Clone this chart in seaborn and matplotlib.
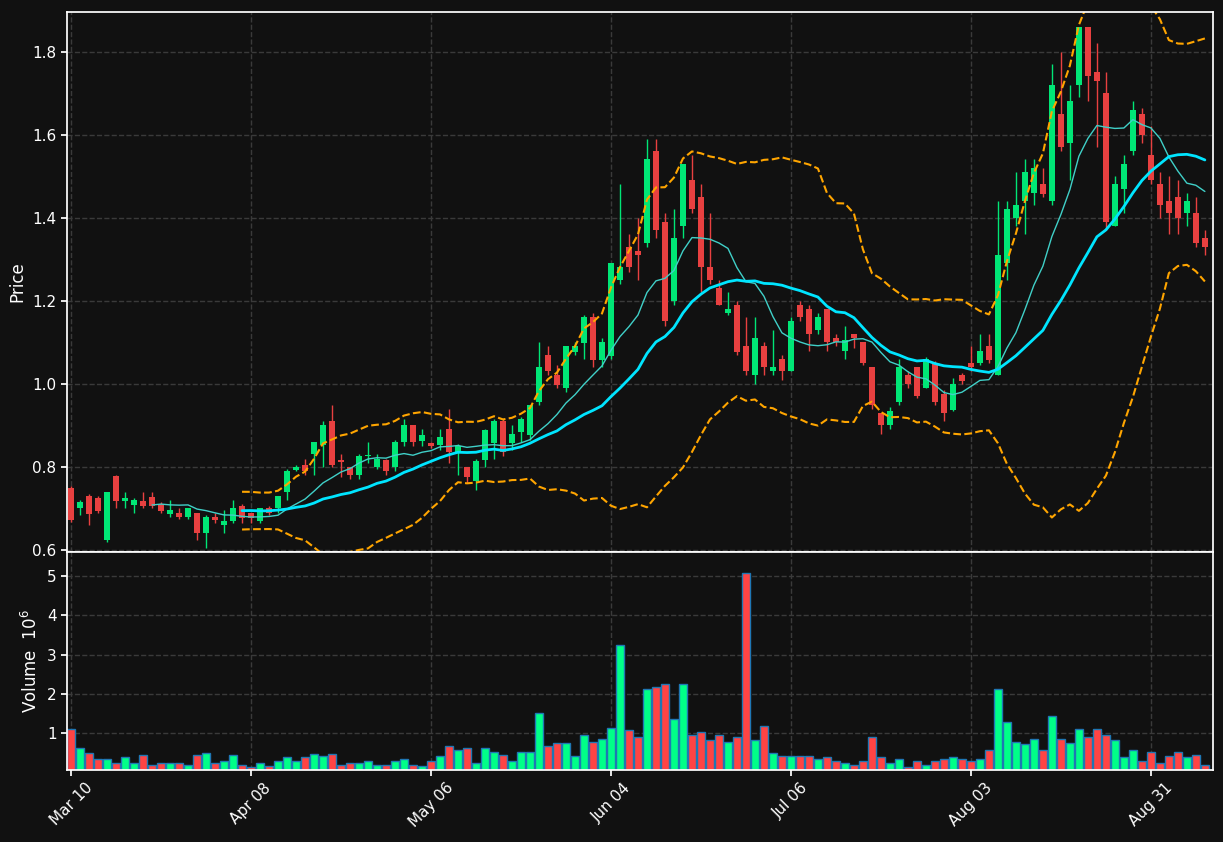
import numpy as np
import pandas as pd
import matplotlib
matplotlib.use("Agg")
import matplotlib.pyplot as plt
import seaborn as sns

# OHLC values (one per trading bar)
opens = [.75,.70,.73,.725,.625,.778,.718,.708,.718,.728,.71,.687,.69,.68,.69,.64,.68,.66,.67,.706,
         .69,.67,.70,.70,.74,.793,.805,.83,.853,.91,.815,.80,.78,.825,.80,.817,.80,.86,.90,.863,
         .858,.853,.89,.836,.80,.766,.816,.858,.91,.858,.885,.877,.955,1.07,1.02,.99,1.077,1.098,1.16,1.058,
         1.067,1.25,1.33,1.32,1.34,1.56,1.39,1.20,1.38,1.49,1.45,1.28,1.23,1.17,1.19,1.09,1.02,1.09,1.03,1.06,
         1.03,1.19,1.18,1.13,1.18,1.11,1.08,1.12,1.10,1.04,.93,.90,.957,1.02,1.04,.99,1.05,.975,.937,1.02,
         1.05,1.05,1.09,1.02,1.29,1.40,1.44,1.46,1.48,1.44,1.65,1.58,1.72,1.86,1.75,1.70,1.38,1.47,1.56,1.65,
         1.55,1.48,1.44,1.45,1.41,1.41,1.35]
closes = [.672,.716,.687,.694,.74,.718,.725,.72,.705,.705,.694,.697,.68,.70,.64,.68,.672,.67,.70,.677,
          .677,.70,.69,.73,.79,.80,.79,.86,.90,.805,.812,.78,.825,.828,.82,.79,.86,.90,.86,.877,
          .85,.872,.835,.85,.776,.815,.889,.91,.835,.88,.915,.95,1.04,1.03,.998,1.09,1.09,1.16,1.058,1.10,
          1.29,1.28,1.28,1.31,1.54,1.37,1.15,1.35,1.53,1.42,1.28,1.25,1.19,1.18,1.077,1.03,1.11,1.04,1.04,1.03,
          1.15,1.16,1.12,1.16,1.10,1.10,1.105,1.11,1.05,.95,.90,.935,1.04,1.00,.97,1.06,.955,.93,1.0,1.007,
          1.04,1.08,1.058,1.31,1.42,1.43,1.51,1.52,1.458,1.72,1.57,1.68,1.86,1.74,1.73,1.39,1.48,1.53,1.66,1.60,
          1.49,1.43,1.41,1.40,1.44,1.34,1.33]
highs = [.755,.72,.735,.73,.74,.78,.74,.725,.74,.74,.715,.72,.70,.70,.69,.685,.69,.695,.72,.71,
         .69,.70,.705,.73,.795,.805,.82,.86,.91,.95,.83,.80,.83,.86,.83,.82,.865,.915,.90,.89,
         .86,.89,.94,.855,.80,.82,.89,.915,.915,.90,.92,.95,1.10,1.09,1.045,1.09,1.10,1.165,1.17,1.11,
         1.29,1.48,1.36,1.40,1.59,1.59,1.41,1.42,1.53,1.55,1.48,1.41,1.25,1.22,1.20,1.16,1.16,1.10,1.13,1.07,
         1.16,1.20,1.19,1.17,1.18,1.12,1.14,1.12,1.10,1.04,.93,.945,1.06,1.03,1.04,1.065,1.055,.985,1.015,1.025,
         1.09,1.12,1.12,1.44,1.44,1.51,1.54,1.54,1.52,1.77,1.80,1.72,1.86,1.86,1.82,1.75,1.50,1.55,1.68,1.665,
         1.62,1.51,1.50,1.49,1.46,1.45,1.37]
lows = [.668,.685,.66,.69,.62,.70,.70,.69,.70,.70,.69,.68,.675,.675,.625,.605,.665,.64,.665,.665,
        .665,.665,.685,.69,.72,.79,.78,.78,.80,.80,.775,.77,.77,.81,.795,.78,.79,.85,.85,.85,
        .845,.84,.81,.78,.76,.745,.80,.82,.825,.84,.86,.865,.95,1.02,.99,.98,1.07,1.06,1.04,1.04,
        1.06,1.24,1.27,1.25,1.33,1.35,1.14,1.19,1.35,1.41,1.22,1.24,1.19,1.165,1.07,1.02,1.00,1.02,1.02,1.01,
        1.03,1.15,1.08,1.12,1.08,1.09,1.06,1.085,1.045,.94,.88,.89,.95,.99,.965,.99,.95,.91,.935,1.0,
        1.03,1.045,1.05,1.02,1.25,1.38,1.36,1.43,1.45,1.43,1.56,1.49,1.69,1.68,1.57,1.37,1.38,1.41,1.55,1.58,
        1.48,1.40,1.36,1.36,1.38,1.33,1.31]
volumes = [1.12,.64,.49,.34,.36,.26,.39,.24,.44,.21,.26,.24,.24,.21,.44,.49,.26,.29,.44,.21,
           .14,.24,.16,.29,.39,.31,.39,.47,.42,.47,.21,.24,.26,.29,.19,.19,.29,.36,.21,.16,
           .29,.42,.69,.57,.62,.26,.64,.52,.44,.31,.52,.52,1.53,.67,.75,.75,.42,.95,.77,.87,
           1.15,3.24,1.08,.92,2.12,2.19,2.25,1.36,2.25,.95,1.03,.82,.95,.77,.90,5.07,.82,1.18,.49,.42,
           .42,.42,.42,.36,.39,.29,.26,.19,.29,.90,.39,.24,.34,.14,.29,.19,.29,.34,.39,.34,
           .31,.34,.57,2.12,1.28,.77,.72,.85,.59,1.43,.87,.75,1.10,.90,1.10,.95,.82,.39,.57,.31,
           .54,.26,.42,.54,.39,.44,.21]
tick_pos = [0, 20, 40, 60, 80, 100, 120]
tick_labels = ["Mar 10", "Apr 08", "May 06", "Jun 04", "Jul 06", "Aug 03", "Aug 31"]

df = pd.DataFrame({"open": opens, "close": closes, "high": highs, "low": lows, "volume": volumes})
df["i"] = np.arange(len(df))
df["ma10"] = df["close"].rolling(10).mean()
df["ma20"] = df["close"].rolling(20).mean()
std20 = df["close"].rolling(20).std(ddof=0)
df["bb_up"] = df["ma20"] + 2 * std20
df["bb_lo"] = df["ma20"] - 2 * std20

bg = "#111111"
sns.set_theme(style="dark", rc={
    "axes.facecolor": bg, "figure.facecolor": bg, "axes.edgecolor": "white",
    "text.color": "white", "axes.labelcolor": "white",
    "xtick.color": "white", "ytick.color": "white",
    "grid.color": "#3a3a3a", "grid.linestyle": "--", "axes.grid": True,
})
plt.rcParams["font.family"] = ["DejaVu Sans"]

fig = plt.figure(figsize=(12.23, 8.42), dpi=100)
ax = fig.add_axes([0.0548, 0.3444, 0.937, 0.6413])
axv = fig.add_axes([0.0548, 0.0855, 0.937, 0.2589], sharex=ax)

up_c, dn_c = "#00e676", "#e84040"
colors = np.where(df["close"] >= df["open"], up_c, dn_c)

# candles
ax.vlines(df["i"], df["low"], df["high"], colors=colors, linewidth=1)
body = (df["close"] - df["open"]).abs().clip(lower=0.004)
ax.bar(df["i"], body, bottom=df[["open", "close"]].min(axis=1), width=0.6, color=colors, linewidth=0)

sns.lineplot(data=df, x="i", y="ma10", ax=ax, color="#40d0c8", linewidth=1)
sns.lineplot(data=df, x="i", y="ma20", ax=ax, color="#00e5ff", linewidth=2)
sns.lineplot(data=df, x="i", y="bb_up", ax=ax, color="#ffa500", linewidth=1.5, linestyle="--")
sns.lineplot(data=df, x="i", y="bb_lo", ax=ax, color="#ffa500", linewidth=1.5, linestyle="--")

ax.set_ylim(0.595, 1.895)
ax.set_xlim(-0.45, 126.9)
ax.set_ylabel("Price")
ax.set_xlabel("")
ax.tick_params(axis="x", labelbottom=False, length=0)
ax.tick_params(axis="y", length=4, left=True)

vcol = np.where(df["close"] >= df["open"], "#00ff88", "#ff4444")
axv.bar(df["i"], df["volume"], width=0.9, color=vcol, edgecolor="#1f77b4", linewidth=1)
axv.set_ylim(0.07, 5.61)
axv.set_yticks([1, 2, 3, 4, 5])
axv.set_ylabel("Volume  $10^6$")
axv.set_xticks(tick_pos)
axv.set_xticklabels(tick_labels, rotation=45, ha="center")
axv.tick_params(axis="both", length=4, left=True, bottom=True)

for a in (ax, axv):
    a.grid(True, linestyle="--", color="#3a3a3a")
    for s in a.spines.values():
        s.set_color("white")

fig.savefig("out.png", dpi=100, facecolor=bg)
